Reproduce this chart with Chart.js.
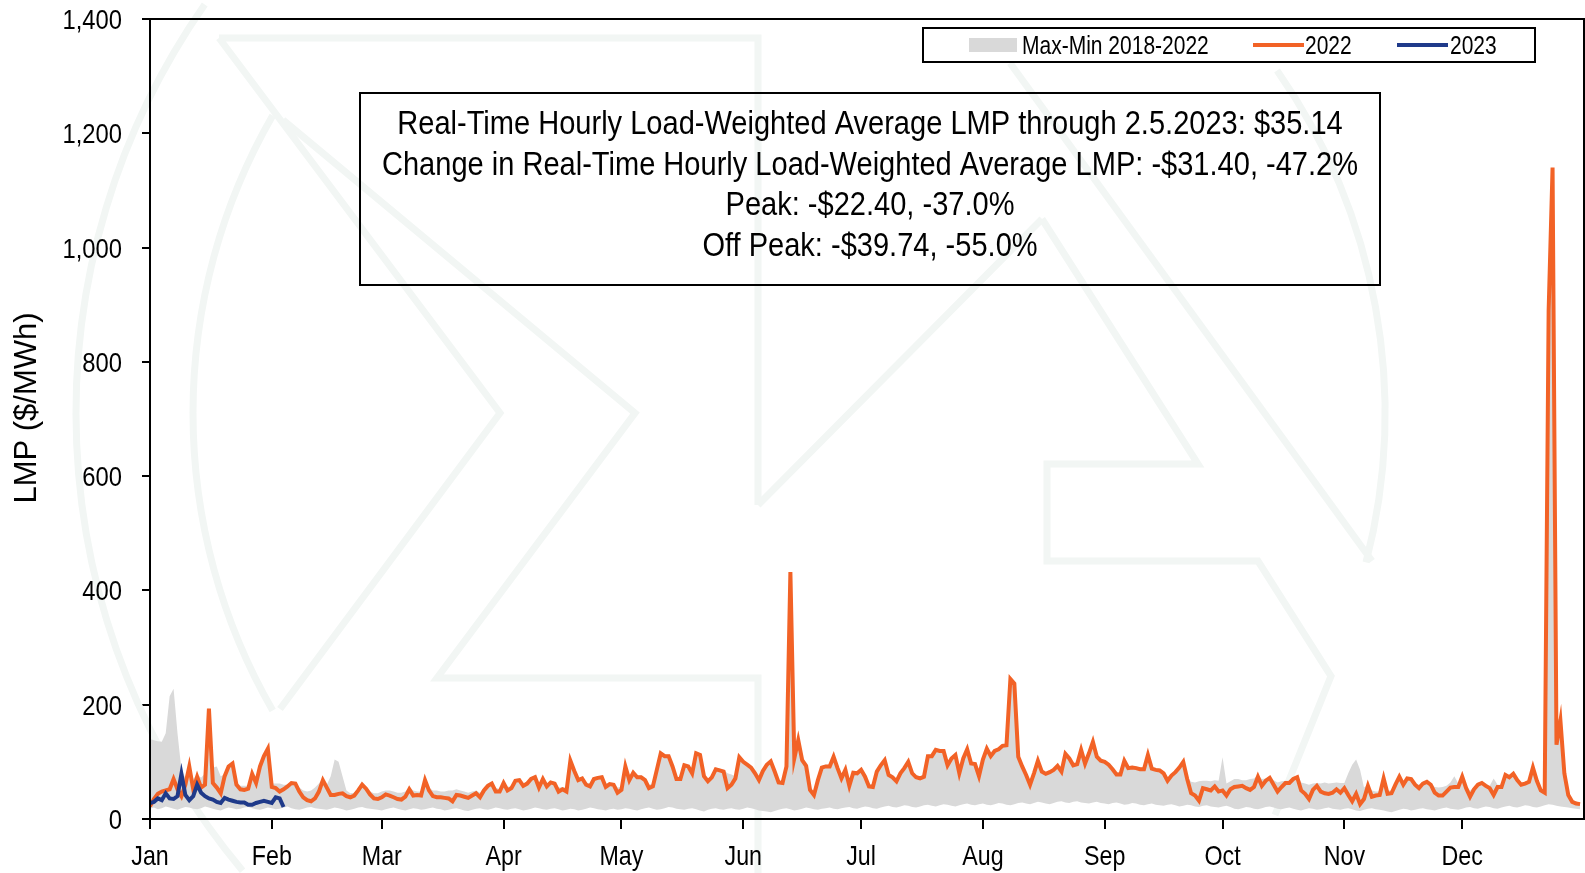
<!DOCTYPE html>
<html><head><meta charset="utf-8">
<script src="https://cdn.jsdelivr.net/npm/chart.js@4.4.0/dist/chart.umd.min.js"></script>
<style>html,body{margin:0;padding:0;background:#fff;overflow:hidden}#wrap{position:relative;width:1585px;height:873px}</style>
</head><body><div id="wrap"><canvas id="c" width="1585" height="873"></canvas></div>
<script>
// ---- data ----
const monthStarts = [0,31,59,90,120,151,181,212,243,273,304,334];
const monthLabels = ['Jan','Feb','Mar','Apr','May','Jun','Jul','Aug','Sep','Oct','Nov','Dec'];
const yTicks = [0,200,400,600,800,1000,1200,1400];

const lmp2022 = [
 22,35,44,48,50,52,70,52,40,60,92,52,74,55,60,193,63,55,45,75,92,97,60,52,51,53,79,63,92,110,123,
 56,54,48,52,57,63,62,48,38,33,31,36,48,68,55,42,42,44,45,40,38,41,50,60,53,43,36,35,
 38,43,41,38,35,34,39,52,41,42,41,68,50,40,38,38,37,36,31,42,41,39,37,41,45,38,50,58,62,48,48,
 63,50,54,67,68,58,62,70,73,55,70,57,64,62,48,52,48,102,84,68,71,60,57,70,72,73,56,61,60,46,
 51,92,68,81,73,73,68,54,57,86,115,110,110,92,70,70,94,92,80,115,112,75,66,73,87,85,83,54,60,71,108,
 100,95,90,80,68,84,95,101,83,64,63,92,432,106,138,103,93,51,42,68,90,92,92,109,89,71,86,58,81,80,
 86,74,57,56,83,94,103,77,73,66,80,89,100,80,73,71,74,110,110,121,119,119,94,106,112,80,106,122,97,96,75,
 104,123,110,119,122,128,129,245,237,109,92,77,60,80,102,83,79,82,86,93,83,114,106,94,96,121,97,115,135,109,102,
 100,95,87,78,78,102,89,90,89,87,87,112,88,86,85,80,67,76,82,90,100,70,45,41,32,54,52,50,57,48,
 50,41,52,56,57,58,54,51,56,74,58,67,72,60,48,56,63,63,70,73,50,44,35,51,58,48,45,44,46,52,46,
 54,42,31,44,26,35,58,39,41,42,71,44,45,60,74,60,71,70,60,54,62,65,60,46,41,41,48,55,56,56,
 74,54,39,52,60,63,58,54,42,56,56,77,73,79,68,60,62,65,90,67,50,46,890,1140,130,172,80,42,30,27,26
];

const lmp2023 = [
 28,30,36,33,45,36,35,40,79,42,33,40,60,46,40,36,34,30,28,37,34,32,30,29,29,25,25,28,30,32,30,28,38,36,21
];

const bandMax = [
 140,138,136,135,150,215,228,150,86,72,95,70,78,72,80,196,90,92,75,78,95,100,65,58,58,58,82,66,95,113,126,
 62,62,62,60,60,65,64,55,50,48,50,55,62,72,60,75,104,100,75,50,45,46,52,62,56,48,45,45,
 48,50,50,48,46,46,48,56,50,48,48,70,55,50,50,48,48,50,50,52,50,48,46,48,50,46,55,62,65,55,52,
 66,56,58,70,71,62,66,73,76,62,73,62,67,65,55,56,55,105,87,72,74,64,62,73,75,76,62,64,63,55,
 56,95,72,84,76,76,72,60,62,89,118,113,113,95,74,74,97,95,84,118,115,78,70,77,90,88,86,80,78,75,111,
 103,98,93,84,72,87,98,104,86,68,67,95,435,109,141,106,96,56,48,72,93,95,95,112,92,75,89,62,84,83,
 89,77,62,60,86,97,106,80,77,70,83,92,103,83,77,75,78,113,113,124,122,122,97,109,115,84,109,125,100,99,79,
 107,126,113,122,125,131,132,248,240,112,95,80,64,83,105,86,82,85,89,96,86,117,109,97,99,124,100,118,138,112,105,
 103,98,90,82,82,105,92,93,92,90,90,115,91,89,88,83,71,79,85,93,103,74,65,64,66,67,67,66,68,67,
 108,62,66,70,70,68,68,70,71,77,70,71,75,68,64,66,67,67,73,76,64,62,60,62,63,62,64,62,63,64,63,
 63,80,95,104,86,55,60,50,48,48,73,50,50,62,76,63,73,72,64,60,65,67,63,56,55,56,58,64,75,62,
 77,58,50,56,63,66,62,58,71,60,60,80,76,82,71,64,65,68,93,70,55,50,893,1143,175,175,83,46,34,30,29
];

const bandMin = [
 18,20,17,19,22,20,18,16,19,21,20,18,17,19,22,20,18,16,15,18,20,19,17,18,20,21,19,17,16,18,20,
 19,17,18,20,22,19,17,16,18,20,21,19,18,17,16,18,20,19,17,15,16,18,20,21,19,18,17,16,
 15,17,19,20,18,16,15,17,19,18,16,17,19,20,18,17,15,16,18,19,17,15,14,16,18,19,17,16,18,20,19,
 17,16,18,19,17,15,16,18,20,19,17,16,18,19,17,15,16,18,17,15,16,18,20,19,17,16,15,17,18,16,
 17,19,18,16,15,17,19,20,18,16,17,19,21,20,18,17,16,18,19,17,15,13,16,18,19,17,16,18,19,17,16,
 18,20,19,17,15,14,13,12,14,16,18,19,17,15,16,18,20,19,17,16,18,19,20,18,17,19,20,21,19,18,
 20,22,21,19,18,20,22,23,21,20,22,24,23,21,20,22,24,25,23,22,24,26,25,23,22,24,26,27,25,24,26,
 27,25,24,26,28,27,25,24,26,28,29,27,26,28,30,29,27,26,28,30,31,29,28,30,31,29,28,27,29,30,28,
 27,26,28,29,27,25,26,28,27,25,24,26,27,25,24,23,25,26,24,22,23,25,24,22,21,23,24,22,21,20,
 22,23,21,18,17,19,21,20,18,17,19,21,22,20,18,17,19,20,18,16,15,17,19,18,16,17,19,20,18,17,16,
 18,19,17,15,14,16,18,19,17,16,15,13,12,14,16,18,17,15,16,18,19,17,16,15,17,19,20,18,17,16,
 18,20,21,19,18,20,22,21,19,18,20,22,23,21,20,22,24,23,21,20,22,24,26,25,23,22,21,20,19,18,17
];

const seriesNames = ['2023','2022','Max-Min 2018-2022'];
const infoLines = [
 'Real-Time Hourly Load-Weighted Average LMP through 2.5.2023: $35.14',
 'Change in Real-Time Hourly Load-Weighted Average LMP: -$31.40, -47.2%',
 'Peak: -$22.40, -37.0%',
 'Off Peak: -$39.74, -55.0%'
];
const yTitle = 'LMP ($/MWh)';

// ---- styling ----
const FONT = "'Liberation Sans', Arial, sans-serif";
const ORANGE = '#F26226';
const NAVY = '#1F3A8A';
const GREY = '#D9D9D9';
const WM = '#F2F6F4';

const toXY = arr => arr.map((v, i) => ({x: i, y: v}));
const deg = d => d * Math.PI / 180;

// draw horizontally condensed text (emulates a narrow typeface)
function narrowText(ctx, text, x, y, size, sx, align, baseline) {
  ctx.save();
  ctx.translate(x, y);
  ctx.scale(sx, 1);
  ctx.font = size + 'px ' + FONT;
  ctx.textAlign = align;
  ctx.textBaseline = baseline;
  ctx.fillStyle = '#000';
  ctx.fillText(text, 0, 0);
  ctx.restore();
}

// faint background logo
const watermark = {
  id: 'watermark',
  beforeDatasetsDraw(chart) {
    const {ctx} = chart;
    ctx.save();
    ctx.strokeStyle = WM;
    ctx.lineWidth = 7;
    ctx.beginPath(); ctx.arc(788, 413, 595, deg(150), deg(210)); ctx.stroke();
    ctx.beginPath(); ctx.arc(788, 413, 597, deg(-35), deg(14.5)); ctx.stroke();
    ctx.beginPath(); ctx.arc(788, 413, 712, deg(140), deg(215)); ctx.stroke();
    const paths = [
      [[219,38],[758,38],[758,505]],
      [[219,38],[500,413],[280,709]],
      [[283,120],[635,413],[437,678],[758,678],[758,873]],
      [[1042,219],[1198,464],[1047,464],[1047,561],[1258,561],[1331,676],[1275,815]],
      [[1042,219],[758,505]],
      [[1010,63],[1372,561]]
    ];
    paths.forEach(p => {
      ctx.beginPath();
      ctx.moveTo(p[0][0], p[0][1]);
      for (let i = 1; i < p.length; i++) ctx.lineTo(p[i][0], p[i][1]);
      ctx.stroke();
    });
    ctx.restore();
  }
};

const overlay = {
  id: 'overlay',
  afterDraw(chart) {
    const {ctx, chartArea: a, scales} = chart;
    const ds = chart.data.datasets;
    ctx.save();
    // plot frame
    ctx.strokeStyle = '#000'; ctx.lineWidth = 2;
    ctx.strokeRect(a.left, a.top, a.right - a.left, a.bottom - a.top);
    // tick labels from the scales
    scales.y.ticks.forEach(t => {
      narrowText(ctx, t.value.toLocaleString('en-US'), 122, scales.y.getPixelForValue(t.value) + 10, 28, 0.85, 'right', 'alphabetic');
    });
    scales.x.ticks.forEach((t, i) => {
      narrowText(ctx, monthLabels[i], scales.x.getPixelForValue(t.value), 865, 28, 0.83, 'center', 'alphabetic');
    });
    // y title
    ctx.save();
    ctx.translate(27, 408);
    ctx.rotate(-Math.PI / 2);
    ctx.font = '31px ' + FONT;
    ctx.fillStyle = '#000';
    ctx.textAlign = 'center'; ctx.textBaseline = 'middle';
    ctx.fillText(yTitle, 0, 0);
    ctx.restore();
    // info box
    ctx.strokeStyle = '#000'; ctx.lineWidth = 2;
    ctx.strokeRect(360, 93, 1020, 192);
    const ys = [134, 175, 215, 256];
    infoLines.forEach((t, i) => narrowText(ctx, t, 870, ys[i], 33, 0.88, 'center', 'alphabetic'));
    // legend
    ctx.strokeRect(923, 28, 612, 34);
    ctx.fillStyle = ds[2].backgroundColor;
    ctx.fillRect(969, 38, 48, 14);
    narrowText(ctx, ds[2].label, 1022, 54, 25, 0.84, 'left', 'alphabetic');
    ctx.lineWidth = 4;
    ctx.strokeStyle = ds[1].borderColor;
    ctx.beginPath(); ctx.moveTo(1253, 45); ctx.lineTo(1304, 45); ctx.stroke();
    narrowText(ctx, ds[1].label, 1305, 54, 25, 0.84, 'left', 'alphabetic');
    ctx.strokeStyle = ds[0].borderColor;
    ctx.beginPath(); ctx.moveTo(1397, 45); ctx.lineTo(1448, 45); ctx.stroke();
    narrowText(ctx, ds[0].label, 1450, 54, 25, 0.84, 'left', 'alphabetic');
    ctx.restore();
  }
};

new Chart(document.getElementById('c'), {
  type: 'line',
  data: {
    datasets: [
      {label: seriesNames[0], data: toXY(lmp2023), borderColor: NAVY, borderWidth: 4, pointRadius: 0, tension: 0, order: 0, fill: false},
      {label: seriesNames[1], data: toXY(lmp2022), borderColor: ORANGE, borderWidth: 4, pointRadius: 0, tension: 0, order: 1, fill: false},
      {label: seriesNames[2], data: toXY(bandMax), borderWidth: 0, borderColor: 'rgba(0,0,0,0)', backgroundColor: GREY, pointRadius: 0, tension: 0, order: 2, fill: '+1'},
      {label: 'min', data: toXY(bandMin), borderWidth: 0, borderColor: 'rgba(0,0,0,0)', pointRadius: 0, tension: 0, order: 3, fill: false}
    ]
  },
  options: {
    responsive: false,
    animation: false,
    devicePixelRatio: 1,
    layout: {padding: {top: 19, right: 1, left: 0, bottom: 0}},
    plugins: {legend: {display: false}, tooltip: {enabled: false}},
    scales: {
      x: {
        type: 'linear', min: 0, max: 365,
        afterBuildTicks: s => { s.ticks = monthStarts.map(v => ({value: v})); },
        afterFit: s => { s.height = 54; },
        ticks: {display: false, callback: (v, i) => monthLabels[i], autoSkip: false},
        grid: {drawOnChartArea: false, drawTicks: true, tickLength: 10, color: '#000', lineWidth: 2},
        border: {display: true, color: '#000', width: 2}
      },
      y: {
        min: 0, max: 1400,
        afterBuildTicks: s => { s.ticks = yTicks.map(v => ({value: v})); },
        afterFit: s => { s.width = 150; },
        ticks: {display: false, callback: v => v.toLocaleString('en-US')},
        grid: {drawOnChartArea: false, drawTicks: true, tickLength: 8, color: '#000', lineWidth: 2},
        border: {display: true, color: '#000', width: 2}
      }
    }
  },
  plugins: [watermark, overlay]
});
</script></body></html>
